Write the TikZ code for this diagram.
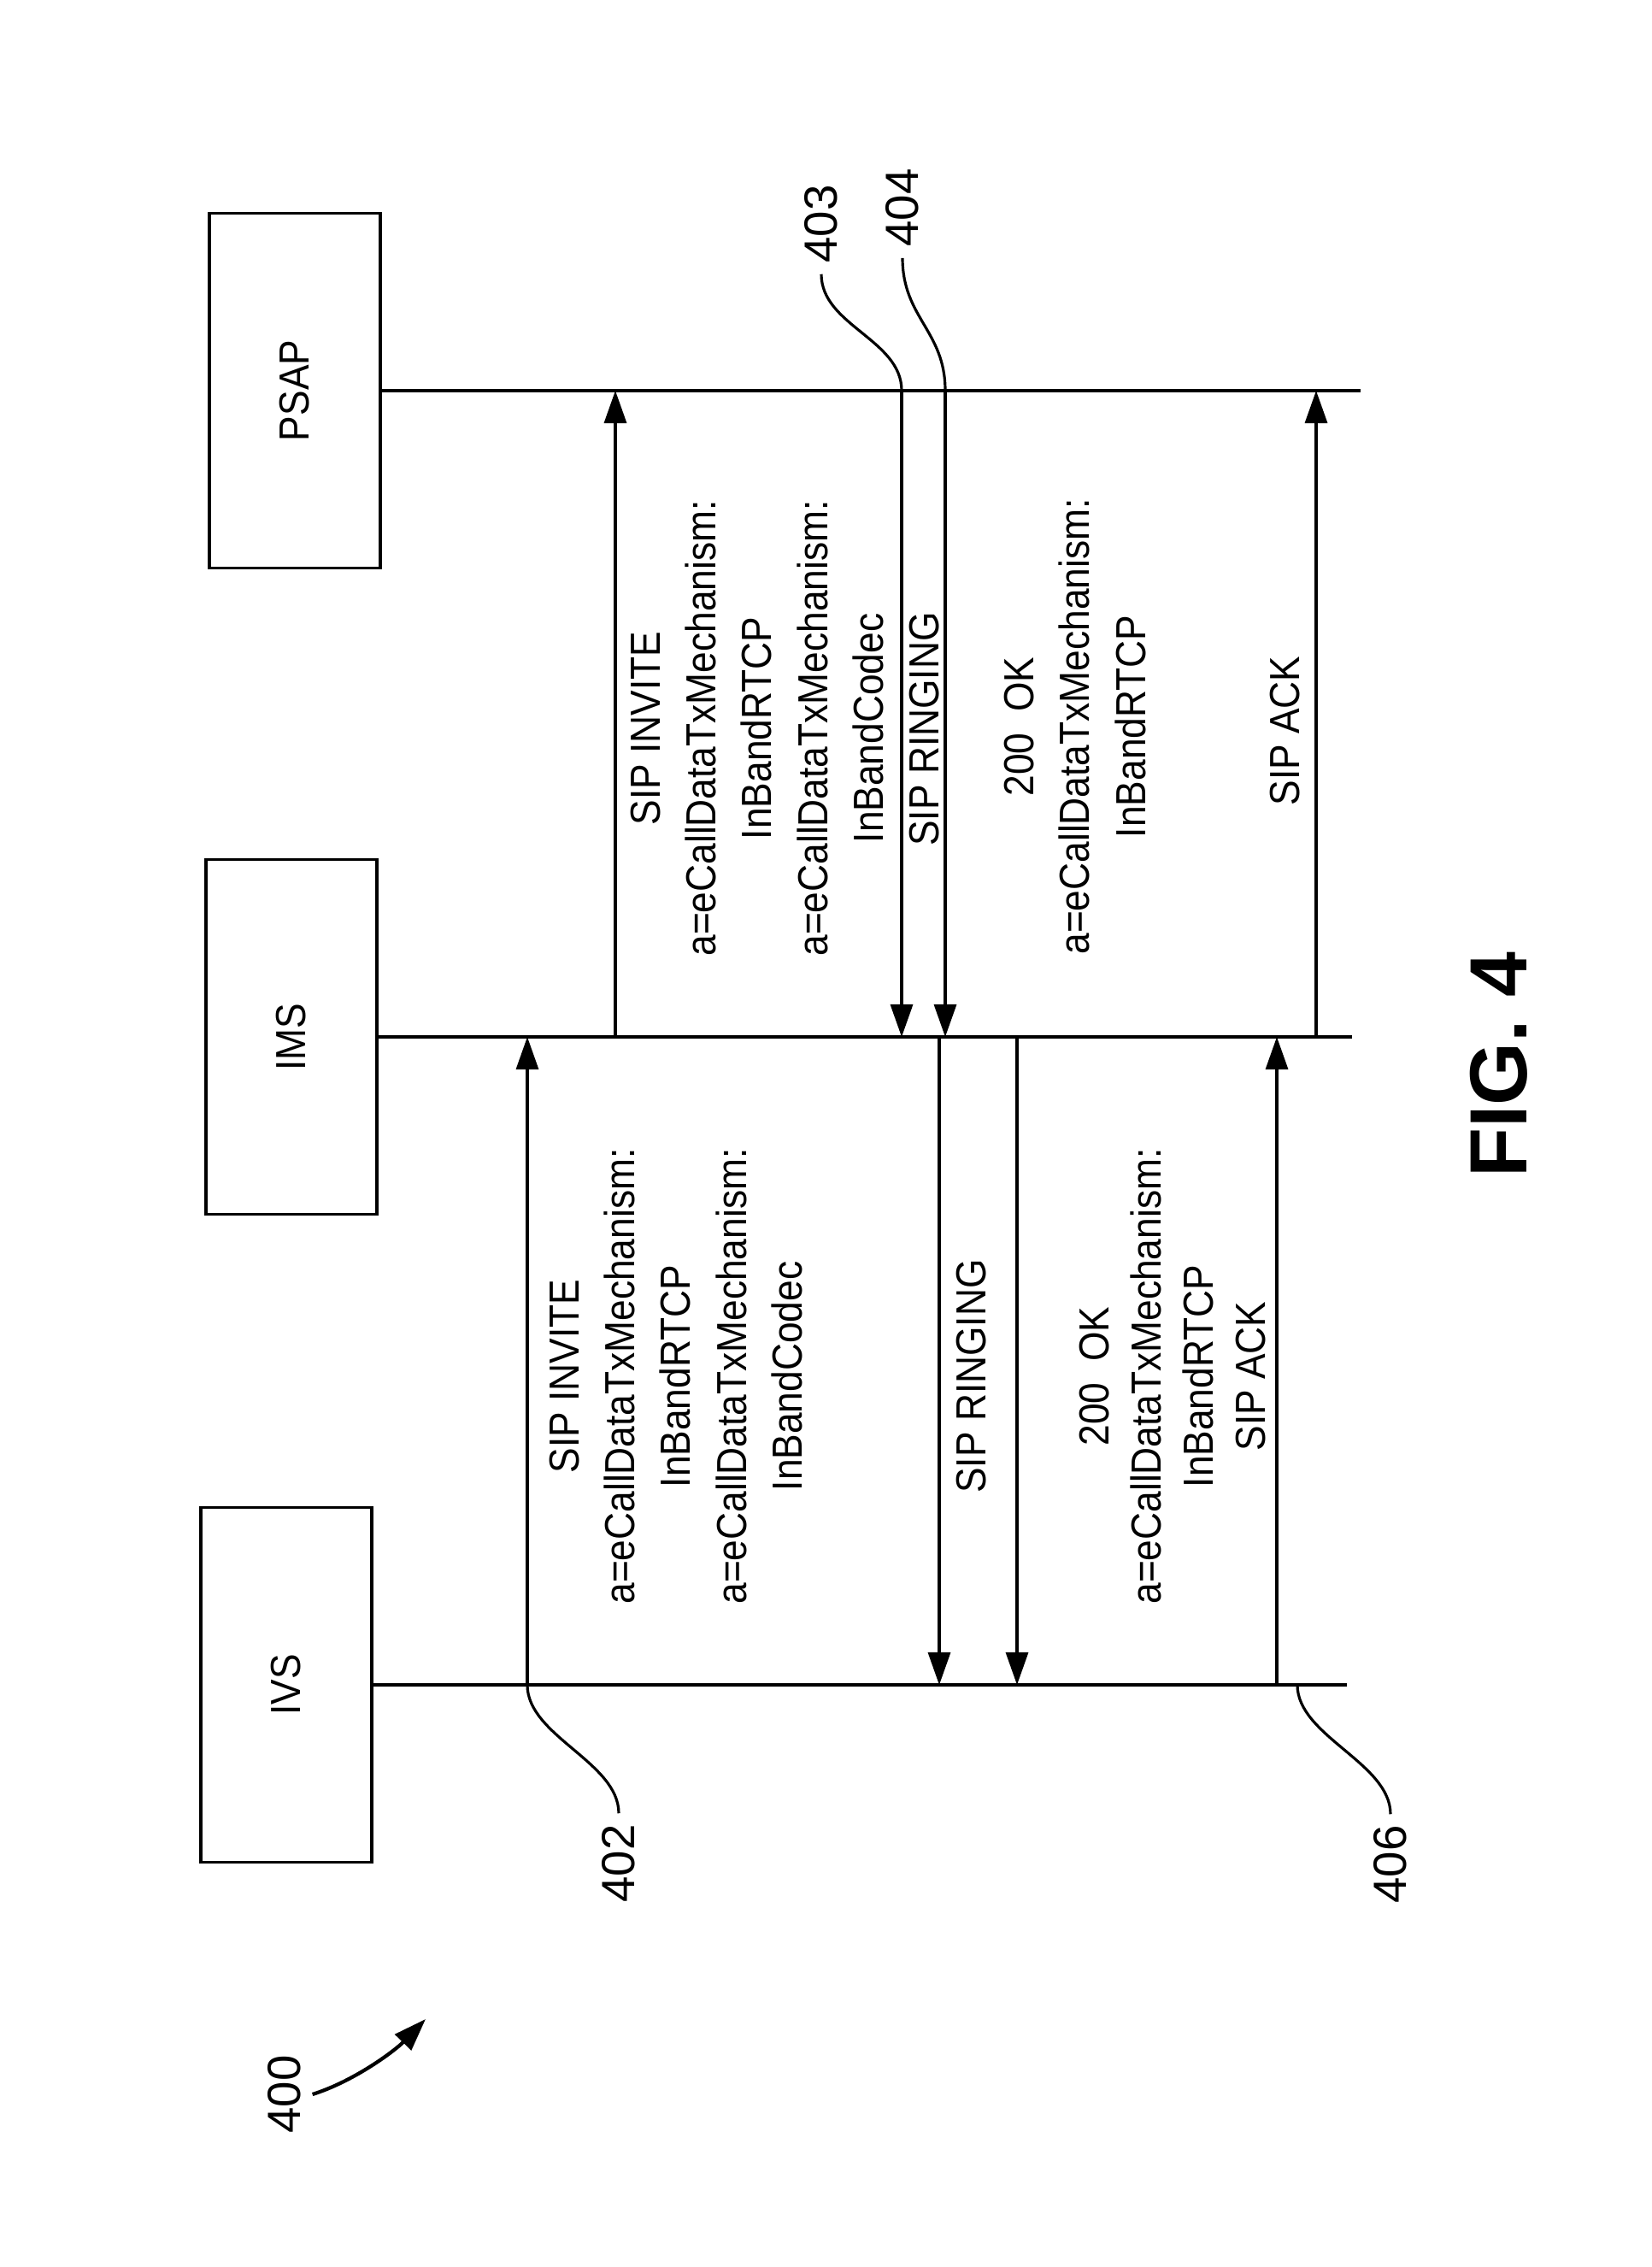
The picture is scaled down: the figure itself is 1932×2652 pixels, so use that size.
\documentclass[tikz,border=0pt]{standalone}
\usepackage{fontspec}
\usepackage{graphicx}
\setmainfont{Liberation Sans}
\newfontfamily\narrowfont[FakeStretch=0.9]{Liberation Sans}
\usetikzlibrary{arrows.meta}

\begin{document}
\begin{tikzpicture}[x=0.01cm, y=-0.01cm, line width=0.9pt,
  entity/.style={draw, minimum width=2cm, minimum height=4.15cm, inner sep=0pt,
    font=\narrowfont\fontsize{14}{17}\selectfont},
  msg/.style={-{Triangle[length=0.38cm, width=0.26cm]}},
  msgtxt/.style={rotate=90, align=center, font=\narrowfont\fontsize{14}{18.5}\selectfont},
  refnum/.style={rotate=90, font=\fontsize{15.5}{18}\selectfont}]
\useasboundingbox (0,0) rectangle (1932,2652);
% entities and lifelines
\node[entity] (psap) at (345,457) {\rotatebox{90}{PSAP}};
\node[entity] (ims) at (341,1213) {\rotatebox{90}{IMS}};
\node[entity] (ivs) at (335,1971) {\rotatebox{90}{IVS}};
\draw (psap.east) -- ++(1145,0);
\draw (ims.east) -- ++(1139,0);
\draw (ivs.east) -- ++(1139,0);
% where the messages cross
\coordinate (inv1) at (617,0);
\coordinate (inv2) at (720,0);
\coordinate (ring1) at (1055,0);
\coordinate (ring2) at (1106,0);
\coordinate (ring3) at (1099,0);
\coordinate (ok1) at (1190,0);
\coordinate (ack1) at (1494,0);
\coordinate (ack2) at (1540,0);
\coordinate (tap406) at (1518,0);
% messages
\draw[msg] (inv1 |- ivs) -- (inv1 |- ims);
\draw[msg] (inv2 |- ims) -- (inv2 |- psap);
\draw[msg] (ring1 |- psap) -- (ring1 |- ims);
\draw[msg] (ring2 |- psap) -- (ring2 |- ims);
\draw[msg] (ring3 |- ims) -- (ring3 |- ivs);
\draw[msg] (ok1 |- ims) -- (ok1 |- ivs);
\draw[msg] (ack1 |- ivs) -- (ack1 |- ims);
\draw[msg] (ack2 |- ims) -- (ack2 |- psap);
% message texts
\node[msgtxt] (invite1) at (791,1610) {SIP INVITE\\a=eCallDataTxMechanism:\\InBandRTCP\\a=eCallDataTxMechanism:\\InBandCodec};
\node[msgtxt] (invite2) at (886,852) {SIP INVITE\\a=eCallDataTxMechanism:\\InBandRTCP\\a=eCallDataTxMechanism:\\InBandCodec};
\node[msgtxt, anchor=base] (ringing2) at (1098,853) {SIP RINGING};
\node[msgtxt, anchor=base] (ringing1) at (1153,1610) {SIP RINGING};
\node[msgtxt] (ok2) at (1258,850) {200~~OK\\a=eCallDataTxMechanism:\\InBandRTCP};
\node[msgtxt, anchor=base] (sipack2) at (1520,855) {SIP ACK};
\node[msgtxt, font=\narrowfont\fontsize{14}{17.3}\selectfont] (ok1txt) at (1372,1610) {200~~OK\\a=eCallDataTxMechanism:\\InBandRTCP\\SIP ACK};
% reference numerals
\node[refnum] (n402) at (724,2180) {402};
\node[refnum] (n403) at (961,262) {403};
\node[refnum] (n404) at (1056,243) {404};
\node[refnum] (n406) at (1627,2181) {406};
\draw (inv1 |- ivs) .. controls +(0,60) and +(0,-60) .. (n402.east);
\draw (n403.west) .. controls +(0,60) and +(0,-60) .. (ring1 |- psap);
\draw (n404.west) .. controls +(0,70) and +(0,-70) .. (ring2 |- psap);
\draw (tap406 |- ivs) .. controls +(0,60) and +(0,-60) .. (n406.east);
\node[refnum] (n400) at (333,2450) {400};
\coordinate (tip400) at (498,2362);
\draw[msg, line width=1.2pt] (n400.south) .. controls (416,2434) and (463,2398) .. (tip400);
\node[rotate=90, font=\bfseries\fontsize{27}{30}\selectfont] (fig) at (1754,1246) {FIG. 4};
\end{tikzpicture}
\end{document}
